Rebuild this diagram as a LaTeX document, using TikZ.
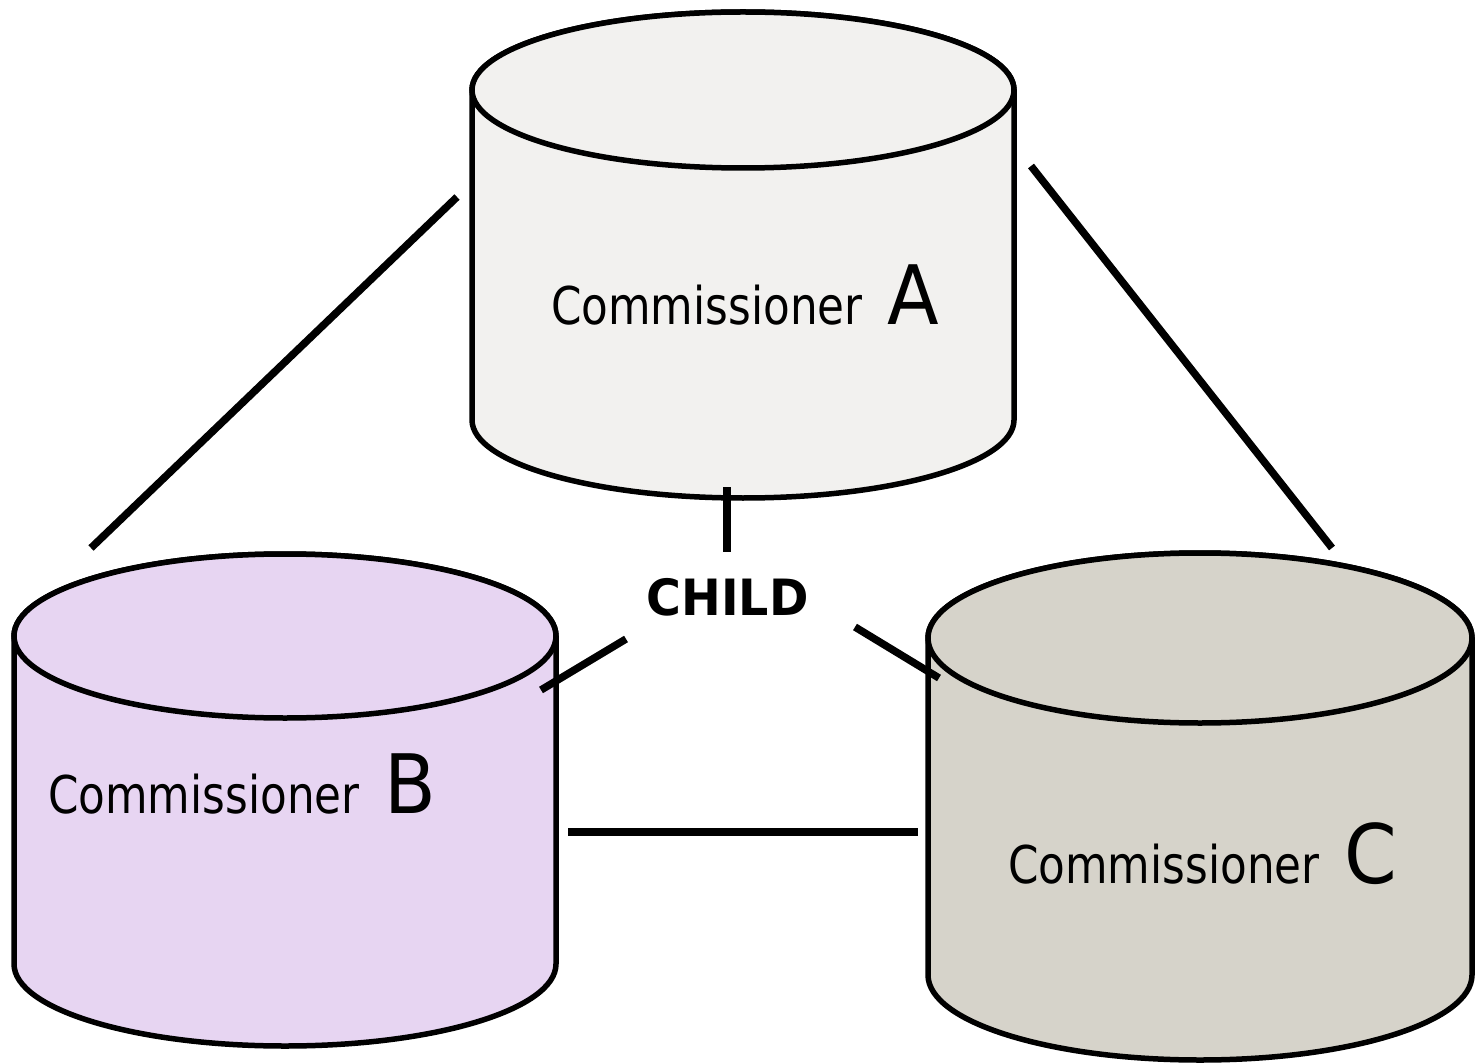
\documentclass[tikz,border=0pt]{standalone}
\usepackage{fontspec}
\newfontfamily\tah[FakeStretch=0.84]{DejaVu Sans}
\newfontfamily\tahbig[FakeStretch=0.92]{DejaVu Sans}
\newfontfamily\tahbold[FakeStretch=0.95]{DejaVu Sans Bold}
\definecolor{fillA}{HTML}{F2F1EF}
\definecolor{fillB}{HTML}{E7D5F2}
\definecolor{fillC}{HTML}{D6D3CA}
\newcommand\mycyl[6]{% cx, rx, ytop, ybot, ry, colour
  \filldraw[fill=#6,draw=black,line width=5.5pt,line join=round]
    ({#1-#2},{-#3}) -- ({#1-#2},{-#4})
    arc[start angle=180,end angle=360,x radius=#2,y radius=#5]
    -- ({#1+#2},{-#3})
    arc[start angle=0,end angle=180,x radius=#2,y radius=#5] -- cycle;
  \filldraw[fill=#6,draw=black,line width=5.5pt] (#1,{-#3}) ellipse[x radius=#2,y radius=#5];
}
\newcommand\bigletter[1]{\hspace*{25pt}{\tahbig\fontsize{82}{90}\selectfont #1}}
\begin{document}
\begin{tikzpicture}[x=1pt,y=1pt,
  conn/.style={draw=black,line width=7.5pt},
  label/.style={inner sep=0pt,anchor=base west,font=\tah\fontsize{52}{60}\selectfont}]
\useasboundingbox (0,0) rectangle (1483,-1064);
\fill[white] (0,0) rectangle (1483,-1064);
% cylinders
\mycyl{743}{271}{90}{420}{78}{fillA}
\mycyl{285}{271}{636}{964}{82}{fillB}
\mycyl{1200}{272}{638}{975}{85}{fillC}
\node[inner sep=0pt] (A) at (743,-255) {};
\node[inner sep=0pt] (B) at (285,-800) {};
\node[inner sep=0pt] (C) at (1200,-806) {};
% labels
\node[label] (tA) at (551,-325) {Commissioner\bigletter{A}};
\node[label] (tB) at (48,-813) {Commissioner\bigletter{B}};
\node[label] (tC) at (1008,-883) {Commissioner\bigletter{C}};
\node[inner sep=0pt,anchor=base,font=\tahbold\fontsize{50}{58}\selectfont] (child) at (727.5,-615) {CHILD};
% connector ends
\coordinate (ab1) at (457,-197);
\coordinate (ab2) at (91,-548);
\coordinate (ac1) at (1031,-166);
\coordinate (ac2) at (1332,-548);
\coordinate (ch1) at (727,-487);
\coordinate (ch2) at (727,-552);
\coordinate (cb1) at (626,-639);
\coordinate (cb2) at (541,-690);
\coordinate (cc1) at (855,-627);
\coordinate (cc2) at (939,-678);
\coordinate (bc1) at (568,-832);
\coordinate (bc2) at (918,-832);
\draw[conn] (ab1) -- (ab2);
\draw[conn] (ac1) -- (ac2);
\draw[conn] (ch1) -- (ch2);
\draw[conn] (cb1) -- (cb2);
\draw[conn] (cc1) -- (cc2);
\draw[conn] (bc1) -- (bc2);
\end{tikzpicture}
\end{document}
